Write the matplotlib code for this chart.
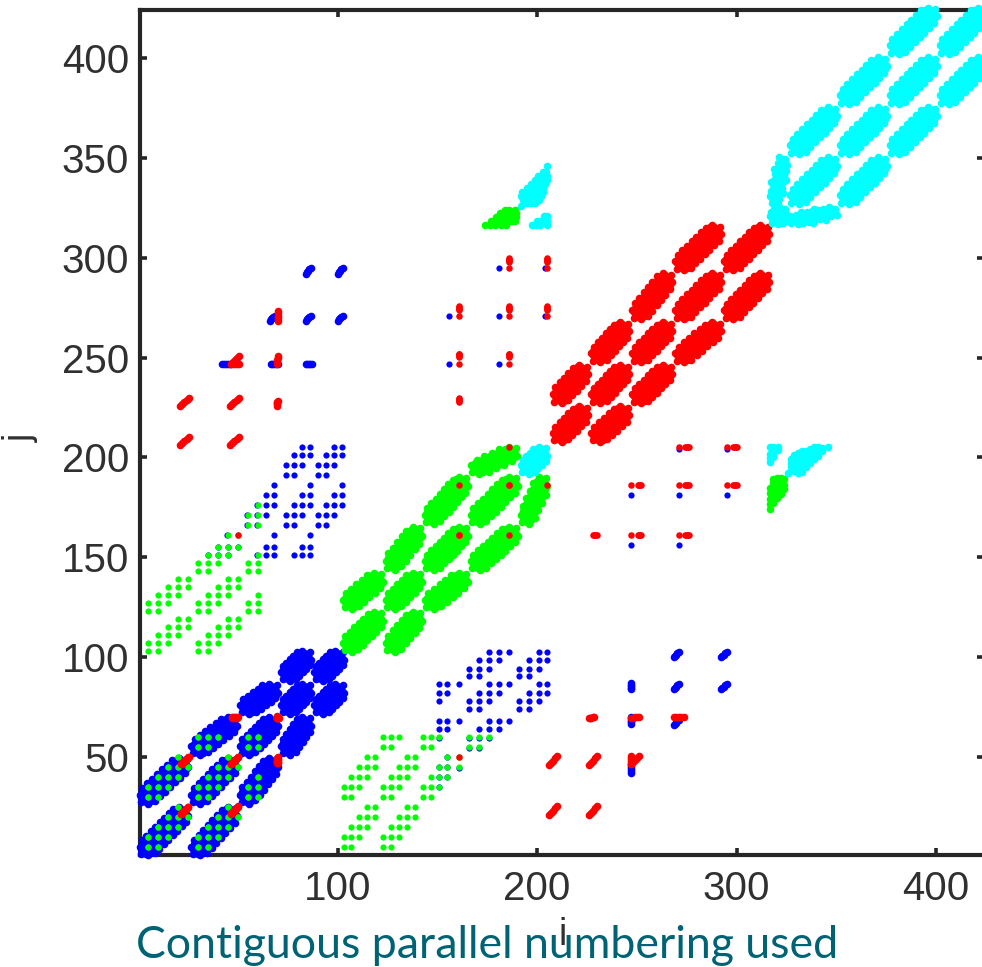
import numpy as np
import matplotlib
matplotlib.use("Agg")
import matplotlib.pyplot as plt

# ---------- block edges along the diagonal (index ranges) ----------
BLUE_EDGES = [(0, 26), (26, 50.5), (50.5, 71), (71, 87.5), (87.5, 104)]
GREEN_EDGES = [(102, 123.5), (123.5, 143), (143, 166), (166, 191), (191, 206)]
RED_EDGES = [(207, 226.5), (226.5, 247), (247, 268.5), (268.5, 293), (293, 317)]
CYAN_EDGES = [(316, 326), (326, 351), (351, 376), (376, 401), (401, 426)]

# ---------- sparse grid levels ----------
G1 = [5, 10, 15, 20, 25]
G2 = [30, 35, 40, 45, 50]
G3 = [55, 60]
J1 = [103, 107, 111, 115, 119]
J2 = [123, 127, 131, 135, 139]
J3 = [143, 147, 151, 155, 161]
J4 = [166, 171, 176, 181, 186]
J5 = [191, 196, 201, 205]
B3 = [54.5, 59.5, 64.3, 68.3]
B4 = [74.3, 78.3, 82.3, 86.4]
B5 = [90.4, 94.3, 98.4, 102.4]

GREEN_GROUPS = [(G1, G1), (G2, G1), (G1, G2), (G2, G2), (G3, G2), (G2, G3), (G3, G3),
                (G1, J1), (G2, J1), (G1, J2), (G2, J2), (G3, J2), (G2, J3), (G3, J3), (G3, J4)]
BLUE_GROUPS = [(B3, J4), (B4, J4), (B5, J4), (B4, J5), (B5, J5)]
BLUE_TOP_ROWS = [(B3, J3), (B4, J3)]
MOTIF_5 = [[0, 1], [0, 1, 2], [1, 2, 3], [2, 3, 4], [3, 4]]
MOTIF_4 = [[0, 1], [0, 1, 2], [1, 2, 3], [2, 3], [3]]

BLUE_DOTS = [(35, 151), (40, 151), (45, 151), (40, 155), (45, 155), (50, 155), (44.5, 161),
             (156, 247), (181, 247), (156, 271), (181, 271), (204, 271), (181, 295), (204, 295)]
RED_DOTS = [(161, 161), (186, 186), (186, 161), (205, 186), (50, 161),
            (161, 247), (186, 247), (161, 271), (186, 271), (205, 271), (186, 295), (205, 295)]

# dashes: i0, j0, i1, j1
RED_DASHES = [(21, 206, 25.5, 210), (21, 226, 25.5, 230), (46, 206, 50.5, 210), (46, 226, 50.5, 230),
              (69.5, 226, 70, 228.5), (46.5, 247, 50.5, 247), (46.5, 247, 50.5, 251),
              (69.7, 247, 70, 251), (70, 268.5, 70, 273.5),
              (21.5, 21.5, 25, 25), (46.5, 22, 50, 25.5), (21.5, 46.5, 25, 50), (46.5, 46.5, 50, 50),
              (70, 47, 70, 50), (47, 69.5, 49.5, 69.5), (69.5, 69.5, 70.5, 69.5)]
RED_SHORT = [(161, 250.5, 161, 252), (186, 250.5, 186, 252), (161, 274, 161, 276),
             (186, 274, 186, 276), (205, 274, 205, 276), (186, 298, 186, 300), (205, 298, 205, 300),
             (161, 228, 161, 230)]
BLUE_DASHES = [(42, 247, 46, 247), (66.5, 247, 70, 247), (84, 247, 87, 247),
               (66, 268.5, 68.5, 271), (84, 268.5, 86.5, 271), (100, 268.5, 102.5, 271),
               (84, 292, 86.5, 295), (100, 292, 102.5, 295)]

# corner clusters, one row per j
GREEN_CORNER_J = [316.5, 318.5, 320.5, 322.5, 324]
GREEN_CORNER_I = [[174, 176.5, 179, 182, 184.5], [177, 179.5, 182, 184.5, 187, 189],
                  [179.5, 182, 184.5, 187, 189.5], [181.5, 184, 186.5, 189.5], [184, 186, 189]]
CYAN_CORNER_J = [326, 327.5, 329, 331, 333, 335, 337, 339, 341, 343, 346,
                 316.5, 318.5, 321]
CYAN_CORNER_I = [[192], [195, 197, 199], [193, 195, 197, 199, 201], [192, 194, 196, 198, 200, 202],
                 [192.5, 195, 197, 199, 201, 203], [195, 197, 199, 201, 203],
                 [197, 199, 201, 203, 204], [199, 201, 203, 205], [200.5, 202.5, 205], [203, 204.5], [205],
                 [197.5, 199.5, 201.5, 205], [200, 202, 204, 205], [203.5, 205]]

X_TICKS = [100, 200, 300, 400]
Y_TICKS = [50, 100, 150, 200, 250, 300, 350, 400]
XLIM = (1, 424)
YLIM = (1, 424)
CAPTION = "Contiguous parallel numbering used"


def thick_blocks(edges, skip=()):
    """One slanted lozenge per neighbouring pair of diagonal blocks."""
    pts = []
    r = 1.5
    for a, (u0, u1) in enumerate(edges):
        for b, (v0, v1) in enumerate(edges):
            if abs(a - b) > 1 or (a, b) in skip:
                continue
            span = min(u1 - u0, v1 - v0)
            scale = min(1.0, max(span, 14.0) / 16.0)
            # thin neck along the centre line, running the full length of the block
            for f in np.linspace(0, 1, int(span / 1.5) + 2):
                pts.append((u0 + r + f * (u1 - u0 - 2 * r), v0 + r + f * (v1 - v0 - 2 * r)))
            inset = min(1.5, span / 8.0)
            for d, step in ((-6.5, 3), (-4.5, 1.5), (-2.5, 1.5), (0, 1.5),
                            (2.5, 1.5), (4.5, 1.5), (6.5, 3)):
                dd = d * scale
                n = int(max(2, round(span / step))) + 1
                for f in np.linspace(0, 1, n):
                    x = u0 + r + inset + f * (u1 - u0 - 2 * r - 2 * inset) + dd / 2
                    y = v0 + r + inset + f * (v1 - v0 - 2 * r - 2 * inset) - dd / 2
                    if u0 + r - 0.8 <= x <= u1 - r + 0.8 and v0 + r - 0.8 <= y <= v1 - r + 0.8:
                        pts.append((x, y))
    return pts


def motif_points(groups, motif, first_row=0):
    pts = []
    for us, vs in groups:
        for q, v in enumerate(vs):
            if q < first_row:
                continue
            pts += [(us[p], v) for p in motif[q] if p < len(us)]
    return pts


def dash_points(dashes):
    pts = []
    for i0, j0, i1, j1 in dashes:
        pts += list(zip(np.linspace(i0, i1, 5), np.linspace(j0, j1, 5)))
    return pts


def corner_points(rows_j, rows_i):
    return [(i, j) for j, row in zip(rows_j, rows_i) for i in row]


def both(pts):
    a = np.array(pts, dtype=float)
    return np.r_[a[:, 0], a[:, 1]], np.r_[a[:, 1], a[:, 0]]


fig = plt.figure(figsize=(9.82, 9.67), dpi=100)
W, H = 982.0, 967.0
L, R, B, T = 140.0, 984.0, 855.0, 10.0
ax = fig.add_axes([L / W, 1 - B / H, (R - L) / W, (B - T) / H])
ax.set_xlim(*XLIM)
ax.set_ylim(*YLIM)

SPINE = "#303030"
S_THICK, S_DOT, S_DASH = 30, 20, 30
kw = dict(marker="o", linewidths=0, clip_on=False)


def draw_sym(pts, size, color, z):
    x, y = both(pts)
    ax.scatter(x, y, s=size, c=color, zorder=z, **kw)


def draw(pts, size, color, z):
    a = np.array(pts)
    ax.scatter(a[:, 0], a[:, 1], s=size, c=color, zorder=z, **kw)


draw(thick_blocks(BLUE_EDGES), S_THICK, "#0000ff", 3.0)
draw_sym(motif_points(BLUE_GROUPS, MOTIF_4) + motif_points(BLUE_TOP_ROWS, MOTIF_4, 2) + BLUE_DOTS,
         S_DOT, "#0000ff", 3.0)
draw_sym(dash_points(BLUE_DASHES), S_DASH, "#0000ff", 3.0)

draw(thick_blocks(GREEN_EDGES, skip={(4, 4)}), S_THICK, "#00ff00", 3.1)
draw_sym(motif_points(GREEN_GROUPS, MOTIF_5), S_DOT, "#00ff00", 3.1)
draw_sym(corner_points(GREEN_CORNER_J, GREEN_CORNER_I), S_THICK, "#00ff00", 3.1)

draw(thick_blocks(RED_EDGES), S_THICK, "#ff0000", 3.2)
draw_sym(RED_DOTS + dash_points(RED_SHORT), S_DOT + 2, "#ff0000", 3.2)
draw_sym(dash_points(RED_DASHES), S_DASH, "#ff0000", 3.2)

draw(thick_blocks(CYAN_EDGES) + thick_blocks([GREEN_EDGES[4]]), S_THICK, "#00ffff", 3.3)
draw_sym(corner_points(CYAN_CORNER_J, CYAN_CORNER_I), S_THICK, "#00ffff", 3.3)

for s in ax.spines.values():
    s.set_linewidth(3.0)
    s.set_color("#262626")
ax.set_xticks(X_TICKS)
ax.set_yticks(Y_TICKS)
ax.tick_params(direction="in", length=5, width=2.6, top=True, right=True, color="#262626",
               labelcolor=SPINE, labelsize=29, zorder=5)
ax.tick_params(axis="x", pad=11)
ax.tick_params(axis="y", pad=8)
for t in ax.get_xticklabels() + ax.get_yticklabels():
    t.set_family("Liberation Sans")

fig.text(21 / W, 1 - 438 / H, "j", rotation=90, ha="center", va="center", fontsize=27,
         family="Liberation Sans", color=SPINE)
fig.text(563 / W, 1 - 935 / H, "i", ha="center", va="center", fontsize=27,
         family="Liberation Sans", color=SPINE)
fig.text(136 / W, 1 - 958 / H, CAPTION, ha="left", va="baseline", fontsize=32.1,
         family="Lato", color="#006373")

fig.savefig("out.png", dpi=100)
